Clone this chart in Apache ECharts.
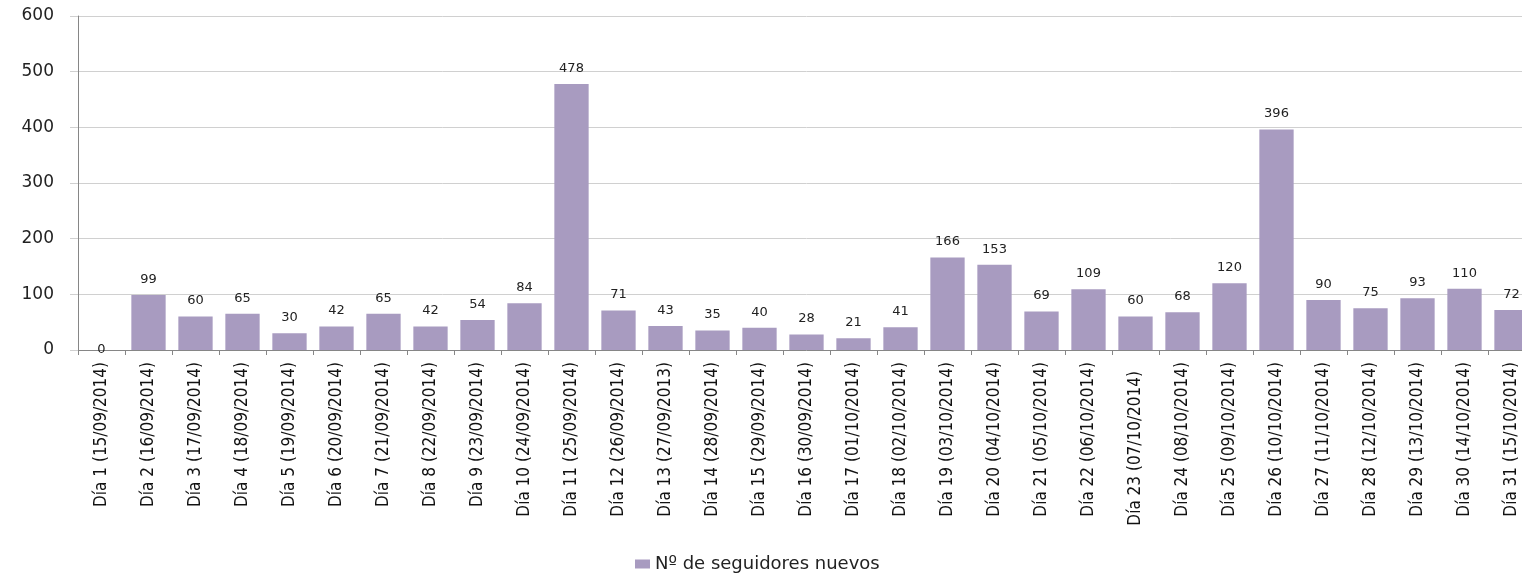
<!DOCTYPE html>
<html><head><meta charset="utf-8">
<script src="https://cdn.jsdelivr.net/npm/echarts@6/dist/echarts.min.js"></script>
<style>html,body{margin:0;padding:0;background:#fff;overflow:hidden}#c{width:1535px;height:579px}</style>
</head><body><div id="c"></div>
<script>
const categories = ["Día 1 (15/09/2014)","Día 2 (16/09/2014)","Día 3 (17/09/2014)","Día 4 (18/09/2014)","Día 5 (19/09/2014)","Día 6 (20/09/2014)","Día 7 (21/09/2014)","Día 8 (22/09/2014)","Día 9 (23/09/2014)","Día 10 (24/09/2014)","Día 11 (25/09/2014)","Día 12 (26/09/2014)","Día 13 (27/09/2013)","Día 14 (28/09/2014)","Día 15 (29/09/2014)","Día 16 (30/09/2014)","Día 17 (01/10/2014)","Día 18 (02/10/2014)","Día 19 (03/10/2014)","Día 20 (04/10/2014)","Día 21 (05/10/2014)","Día 22 (06/10/2014)","Día 23 (07/10/2014)","Día 24 (08/10/2014)","Día 25 (09/10/2014)","Día 26 (10/10/2014)","Día 27 (11/10/2014)","Día 28 (12/10/2014)","Día 29 (13/10/2014)","Día 30 (14/10/2014)","Día 31 (15/10/2014)"];
const seguidores = [0,99,60,65,30,42,65,42,54,84,478,71,43,35,40,28,21,41,166,153,69,109,60,68,120,396,90,75,93,110,72];
const seriesName = "Nº de seguidores nuevos";
const yTicks = {min:0, max:600, interval:100};

const catData = categories.map((c, i) => i === 22 ? {value:c, textStyle:{padding:[0,9,0,0]}} : c);
const barData = seguidores.map(v => v === 0 ? {value:v, label:{distance:-6}} : v);

const chart = echarts.init(document.getElementById('c'), null, {renderer:'canvas'});
chart.setOption({
  animation:false,
  grid:{left:78, top:16, right:0, bottom:229, containLabel:false},
  legend:{
    bottom:1, left:630, itemWidth:15, itemHeight:9, icon:'rect', itemGap:8,
    textStyle:{fontFamily:'DejaVu Sans', fontSize:18, color:'#222'},
    data:[seriesName]
  },
  xAxis:{
    type:'category', data:catData,
    axisLine:{lineStyle:{color:'#868686', width:1}},
    axisTick:{show:true, length:5, lineStyle:{color:'#868686'}},
    axisLabel:{rotate:90, interval:0, margin:12, fontFamily:'Liberation Sans Narrow, DejaVu Sans Condensed, sans-serif', fontSize:17, color:'#111'}
  },
  yAxis:{
    type:'value', min:yTicks.min, max:yTicks.max, interval:yTicks.interval,
    axisLine:{show:true, lineStyle:{color:'#868686'}},
    axisTick:{show:true, length:8, lineStyle:{color:'#d0d0d0'}},
    splitLine:{lineStyle:{color:'#d0d0d0'}},
    axisLabel:{margin:24, fontFamily:'DejaVu Sans', fontSize:17, color:'#222'}
  },
  series:[{
    name:seriesName, type:'bar', data:barData,
    barCategoryGap:'27%',
    itemStyle:{color:'#A89BC0'},
    label:{show:true, position:'top', distance:9, fontFamily:'DejaVu Sans', fontSize:13, color:'#222'}
  }]
});
</script></body></html>
